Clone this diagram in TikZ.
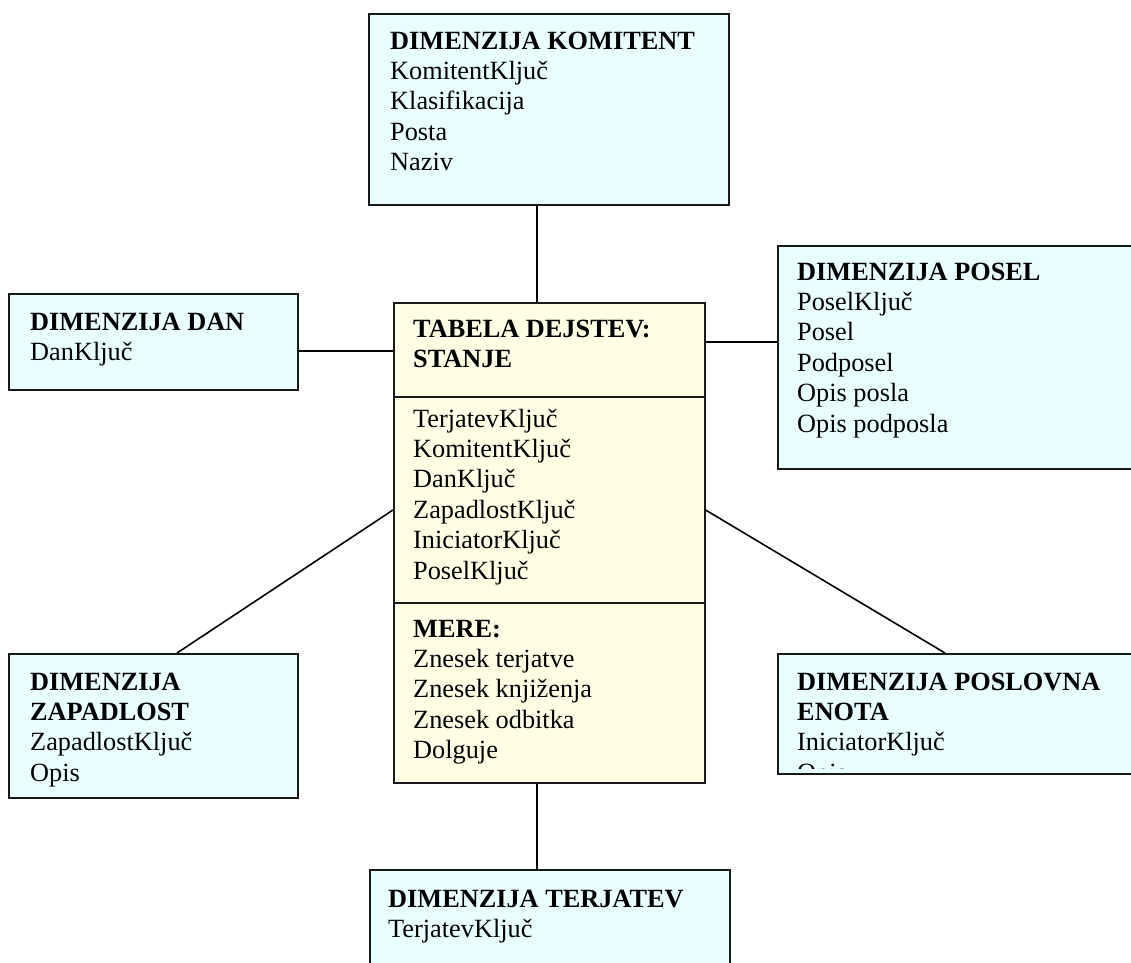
\documentclass[tikz,border=0pt]{standalone}
\usepackage{fontspec}
\setmainfont{Liberation Serif}
\usetikzlibrary{backgrounds}
\definecolor{dimfill}{HTML}{E9FFFF}
\definecolor{factfill}{HTML}{FFFFE6}
\newcommand{\rowsbox}[1]{\vtop{\halign{##\hfil\cr #1\crcr}}}
\tikzset{
  dimbox/.style={draw=black!90, line width=1.6pt, fill=dimfill, inner sep=0pt, anchor=north west},
  factbox/.style={draw=black!90, line width=1.6pt, fill=factfill, inner sep=0pt, anchor=north west},
  txt/.style={anchor=base west, inner sep=0pt, font=\fontsize{26.3}{30.4}\selectfont},
  conn/.style={draw=black, line width=1.6pt}
}
\begin{document}
\begin{tikzpicture}[x=1pt, y=-1pt]
\clip (0,0) rectangle (1131,962);
% boxes
\node[dimbox, minimum width=360pt, minimum height=191pt] (kom) at (368,13) {};
\node[dimbox, minimum width=289pt, minimum height=96pt] (dan) at (8,293) {};
\node[dimbox, minimum width=368pt, minimum height=223pt] (posel) at (777,245) {};
\node[factbox, minimum width=311pt, minimum height=480pt] (fact) at (393,302) {};
\node[dimbox, minimum width=289pt, minimum height=144pt] (zap) at (8,653) {};
\node[dimbox, minimum width=368pt, minimum height=120pt] (pen) at (777,653) {};
\node[dimbox, minimum width=360pt, minimum height=121pt] (ter) at (369,869) {};
% dividers in fact table
\coordinate (d1) at (0,397);
\coordinate (d2) at (0,603);
\draw[conn, draw=black!90] (fact.west |- d1) -- (fact.east |- d1);
\draw[conn, draw=black!90] (fact.west |- d2) -- (fact.east |- d2);
% connectors
\coordinate (ax) at (537,0);
\coordinate (ay1) at (0,351);
\coordinate (ay2) at (0,342);
\coordinate (ay3) at (0,510);
\coordinate (zx) at (177,0);
\coordinate (px) at (945,0);
\begin{pgfonlayer}{background}
\fill[white] (0,0) rectangle (1131,962);
\draw[conn] (kom.south -| ax) -- (fact.north -| ax);
\draw[conn] (fact.south -| ax) -- (ter.north -| ax);
\draw[conn] (dan.east |- ay1) -- (fact.west |- ay1);
\draw[conn] (fact.east |- ay2) -- (posel.west |- ay2);
\draw[conn] (fact.west |- ay3) -- (zap.north -| zx);
\draw[conn] (fact.east |- ay3) -- (pen.north -| px);
\end{pgfonlayer}
% texts
\node[txt] (komt) at (390,49) {\rowsbox{\textbf{DIMENZIJA KOMITENT}\cr KomitentKljuč\cr Klasifikacija\cr Posta\cr Naziv}};
\node[txt] (dant) at (30,330) {\rowsbox{\textbf{DIMENZIJA DAN}\cr DanKljuč}};
\node[txt] (poselt) at (797,280) {\rowsbox{\textbf{DIMENZIJA POSEL}\cr PoselKljuč\cr Posel\cr Podposel\cr Opis posla\cr Opis podposla}};
\node[txt] (factt) at (413,337) {\rowsbox{\textbf{TABELA DEJSTEV:}\cr \textbf{STANJE}}};
\node[txt] (factk) at (413,427) {\rowsbox{TerjatevKljuč\cr KomitentKljuč\cr DanKljuč\cr ZapadlostKljuč\cr IniciatorKljuč\cr PoselKljuč}};
\node[txt] (factm) at (413,637) {\rowsbox{\textbf{MERE:}\cr Znesek terjatve\cr Znesek knjiženja\cr Znesek odbitka\cr Dolguje}};
\node[txt] (zapt) at (30,690) {\rowsbox{\textbf{DIMENZIJA}\cr \textbf{ZAPADLOST}\cr ZapadlostKljuč\cr Opis}};
\begin{scope}
\clip (778,654) rectangle (1131,768);
\node[txt] (pent) at (797,690) {\rowsbox{\textbf{DIMENZIJA POSLOVNA}\cr \textbf{ENOTA}\cr IniciatorKljuč\cr Opis}};
\end{scope}
\node[txt] (tert) at (388,907) {\rowsbox{\textbf{DIMENZIJA TERJATEV}\cr TerjatevKljuč}};
\end{tikzpicture}
\end{document}
